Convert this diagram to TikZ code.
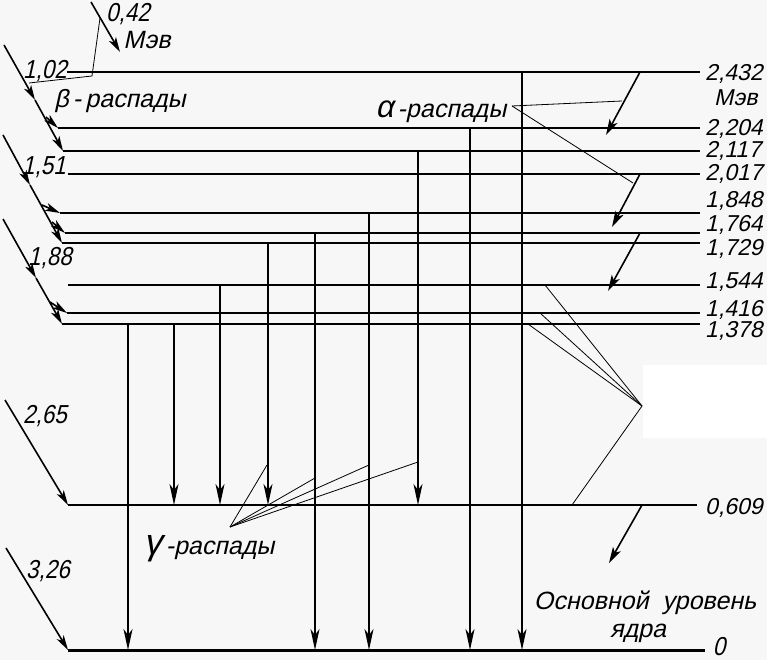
\documentclass[tikz,border=0pt]{standalone}
\usepackage{fontspec}
\setmainfont{Liberation Sans}[FakeSlant=0.22]
\newfontfamily\numfont{Liberation Sans}[FakeSlant=0.22, FakeStretch=0.86]
\usetikzlibrary{arrows.meta}
\begin{document}
\begin{tikzpicture}[x=1pt,y=-1pt,
  lvl/.style={line width=1.8pt},
  gnd/.style={line width=3pt},
  gam/.style={line width=1.8pt,-{Stealth[length=21pt,width=9pt,inset=6pt]}},
  bet/.style={line width=1.6pt,-{Stealth[length=15pt,width=8pt,inset=4pt]}},
  alf/.style={line width=1.6pt,-{Stealth[length=16pt,width=9pt,inset=4pt]}},
  lead/.style={line width=0.8pt},
  lab/.style={font=\fontsize{25}{25}\selectfont, inner sep=0pt, text height=18pt, text depth=3pt},
  num/.style={font=\numfont\fontsize{26}{26}\selectfont, inner sep=0pt, text height=18pt, text depth=1pt},
  rlab/.style={font=\fontsize{23}{23}\selectfont, inner sep=0pt, text height=16pt, text depth=1pt, anchor=west},
]
\fill[black!3] (0,0) rectangle (767,660);
\useasboundingbox (0,0) rectangle (767,660);
\fill[white] (643,365) rectangle (767,438);

% ---- level coordinates (left end, right end)
\coordinate (a2432) at (67,72);  \coordinate (b2432) at (700,72);
\coordinate (a2204) at (58,128); \coordinate (b2204) at (700,128);
\coordinate (a2117) at (63,151); \coordinate (b2117) at (700,151);
\coordinate (a2017) at (68,174); \coordinate (b2017) at (700,174);
\coordinate (a1848) at (60,213); \coordinate (b1848) at (700,213);
\coordinate (a1764) at (65,233); \coordinate (b1764) at (700,233);
\coordinate (a1729) at (62,243); \coordinate (b1729) at (700,243);
\coordinate (a1544) at (68,285); \coordinate (b1544) at (700,285);
\coordinate (a1416) at (67,313); \coordinate (b1416) at (700,313);
\coordinate (a1378) at (62,324); \coordinate (b1378) at (700,324);
\coordinate (a609)  at (68,505); \coordinate (b609)  at (697,505);
\coordinate (a0)    at (68,650); \coordinate (b0)    at (705,650);

\foreach \l in {2432,2204,2117,2017,1848,1764,1729,1544,1416,1378,609}
  \draw[lvl] (a\l) -- (b\l);
\draw[gnd] (a0) -- (b0);

% ---- gamma transitions
\foreach \x/\f/\t in {128/1378/0, 174/1378/609, 220/1544/609, 268/1729/609,
                      315/1764/0, 369/1848/0, 418/2117/609, 470/2204/0, 522/2432/0}{
  \coordinate (gx) at (\x,0);
  \draw[gam] (gx |- a\f) -- (gx |- a\t);
}

% ---- beta decays
\coordinate (s042) at (91,2);  \coordinate (e042) at (120,52);
\draw[bet] (s042) -- (e042);
\coordinate (j042) at (92,76); \coordinate (k042) at (100,18);
\draw[lead] (j042) -- (k042);
\coordinate (u102) at (29,83);
\draw[lead] (u102) -- (j042);

\coordinate (s1) at (4,45);
\draw[bet] (s1) -- (35,100);
\draw[bet] (35,100) -- (a2117);
\draw[bet] (46,117) -- (a2204);

\coordinate (s2) at (3,135);
\draw[bet] (s2) -- (30,185);
\draw[bet] (30,185) -- (a1729);
\draw[bet] (42,205) -- (a1848);
\draw[bet] (52,222) -- (a1764);

\coordinate (s3) at (3,219);
\draw[bet] (s3) -- (36,278);
\draw[bet] (36,278) -- (a1378);
\draw[bet] (50,302) -- (a1416);

\coordinate (s4) at (5,400);
\draw[bet] (s4) -- (a609);
\coordinate (s5) at (6,548);
\draw[bet] (s5) -- (a0);

% ---- alpha decays
\draw[alf] (640,72) -- (606,135);
\draw[alf] (640,174) -- (612,227);
\draw[alf] (640,233) -- (608,291);
\draw[alf] (642,505) -- (609,563);

% ---- labels left
\node[num] (t042) at (128,13) {0,42};
\node[lab] (tmev) at (147,41) {Мэв};
\node[num] (t102) at (45,70) {1,02};
\node[lab] (tbeta) at (120,100) {β\,-\,распады};
\node[num] (t151) at (44,166) {1,51};
\node[num] (t188) at (50,257) {1,88};
\node[num] (t265) at (45,415) {2,65};
\node[num] (t326) at (48,570) {3,26};

% ---- alpha label + leaders
\node[lab] (talpha) at (441,110) {{\fontsize{31}{25}\selectfont α}\kern4pt-распады};
\coordinate (aL) at (512,106);
\draw[lead] (aL) -- (622,101);
\draw[lead] (aL) -- (633,183);

% ---- gamma label + leaders
\node[lab] (tgamma) at (209,547) {{\fontsize{36}{25}\selectfont γ}\,-распады};
\coordinate (gL) at (230,527);
\draw[lead] (gL) -- (267,465);
\draw[lead] (gL) -- (315,478);
\draw[lead] (gL) -- (369,465);
\draw[lead] (gL) -- (418,462);

% ---- right leaders
\coordinate (rL) at (642,406);
\draw[lead] (rL) -- (545,285);
\draw[lead] (rL) -- (540,313);
\draw[lead] (rL) -- (528,324);
\draw[lead] (rL) -- (572,505);

% ---- labels right
\node[rlab] (r2432) at (705,73) {2,432};
\node[rlab] (rmev) at (714,98) {Мэв};
\node[rlab] (r2204) at (705,128) {2,204};
\node[rlab] (r2117) at (705,150) {2,117};
\node[rlab] (r2017) at (705,173) {2,017};
\node[rlab] (r1848) at (705,200) {1,848};
\node[rlab] (r1764) at (705,224) {1,764};
\node[rlab] (r1729) at (705,248) {1,729};
\node[rlab] (r1544) at (705,281) {1,544};
\node[rlab] (r1416) at (705,309) {1,416};
\node[rlab] (r1378) at (705,330) {1,378};
\node[rlab] (r609) at (705,507) {0,609};
\node[lab] (tosn) at (645,602) {Основной\ \ уровень};
\node[lab] (tyad) at (638,630) {ядра};
\node[num] (tzero) at (719,647) {0};
\end{tikzpicture}
\end{document}
